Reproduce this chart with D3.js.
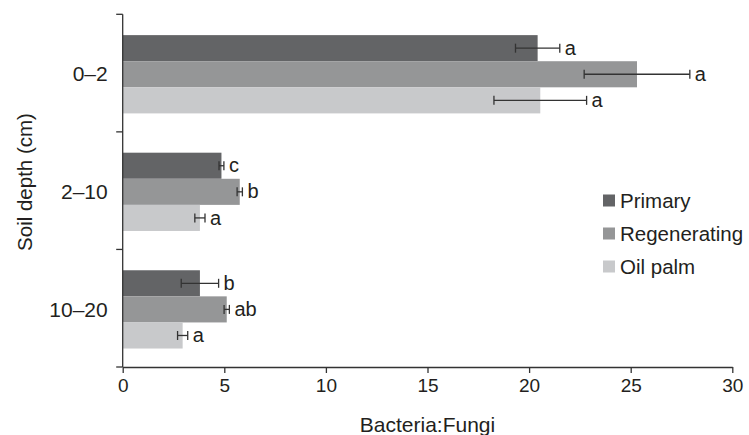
<!DOCTYPE html>
<html>
<head>
<meta charset="utf-8">
<script src="https://cdn.jsdelivr.net/npm/d3@7"></script>
<style>
  html, body { margin: 0; padding: 0; background: #fff; }
  svg { display: block; font-family: "Liberation Sans", Arial, sans-serif; }
</style>
</head>
<body>
<svg id="chart" width="749" height="435"></svg>
<script>
// ---- data ----
const depths = ["0\u20132", "2\u201310", "10\u201320"];
const series = ["Primary", "Regenerating", "Oil palm"];
const primaryVals = [20.42, 4.86, 3.8];
const regenVals = [25.31, 5.76, 5.12];
const oilVals = [20.55, 3.8, 2.95];
const primaryErr = [1.09, 0.12, 0.92];
const regenErr = [2.6, 0.13, 0.13];
const oilErr = [2.28, 0.25, 0.25];
const primaryLetters = ["a", "c", "b"];
const regenLetters = ["a", "b", "ab"];
const oilLetters = ["a", "a", "a"];
const xTicks = [0, 5, 10, 15, 20, 25, 30];
const colors = ["#636466", "#959697", "#c8c9cb"];

const valueSets = [primaryVals, regenVals, oilVals];
const errSets = [primaryErr, regenErr, oilErr];
const letterSets = [primaryLetters, regenLetters, oilLetters];

const rows = [];
depths.forEach((d, i) => {
  series.forEach((s, j) => {
    rows.push({depth: d, series: s, si: j, value: valueSets[j][i], err: errSets[j][i], letter: letterSets[j][i]});
  });
});

const svg = d3.select("#chart");
const ink = "#231f20";
const axisInk = "#333";

const x = d3.scaleLinear().domain([0, 30]).range([122.7, 732.3]);
const y = d3.scaleBand().domain(depths).range([14.3, 367]).padding(0);
const yInner = d3.scaleBand().domain(series).range([0, y.bandwidth()]).paddingInner(0).paddingOuter(0.753).align(0.53);

// bars
svg.append("g").selectAll("rect").data(rows).join("rect")
  .attr("x", x(0))
  .attr("y", d => y(d.depth) + yInner(d.series))
  .attr("width", d => x(d.value) - x(0))
  .attr("height", yInner.bandwidth())
  .attr("fill", d => colors[d.si]);

// error bars
const eb = svg.append("g").attr("stroke", axisInk).attr("stroke-width", 1.3);
rows.forEach(d => {
  const cy = y(d.depth) + yInner(d.series) + yInner.bandwidth() / 2;
  const x1 = x(d.value - d.err), x2 = x(d.value + d.err);
  eb.append("line").attr("x1", x1).attr("x2", x2).attr("y1", cy).attr("y2", cy);
  eb.append("line").attr("x1", x1).attr("x2", x1).attr("y1", cy - 4.5).attr("y2", cy + 4.5);
  eb.append("line").attr("x1", x2).attr("x2", x2).attr("y1", cy - 4.5).attr("y2", cy + 4.5);
});

// significance letters
svg.append("g").selectAll("text").data(rows).join("text")
  .attr("x", d => x(d.value + d.err) + 5)
  .attr("y", d => y(d.depth) + yInner(d.series) + yInner.bandwidth() / 2)
  .attr("dy", "0.33em")
  .attr("font-size", 20)
  .attr("fill", ink)
  .text(d => d.letter);

// x axis
const xAxis = svg.append("g")
  .attr("transform", `translate(0,${y.range()[1]})`)
  .call(d3.axisBottom(x).tickValues(xTicks).tickSize(6).tickSizeOuter(0).tickPadding(6));
xAxis.select(".domain").attr("stroke", axisInk).attr("stroke-width", 1.3);
xAxis.selectAll(".tick line").attr("stroke", axisInk).attr("stroke-width", 1.3);
xAxis.selectAll(".tick text").attr("font-size", 19).attr("fill", ink).attr("font-family", null);

// y axis (band boundaries as ticks)
const yg = svg.append("g");
const bounds = depths.map(d => y(d)).concat([y.range()[1]]);
yg.append("line").attr("x1", x(0)).attr("x2", x(0)).attr("y1", y.range()[0]).attr("y2", y.range()[1])
  .attr("stroke", axisInk).attr("stroke-width", 1.3);
yg.selectAll("line.tk").data(bounds).join("line").attr("class", "tk")
  .attr("x1", x(0) - 6.5).attr("x2", x(0)).attr("y1", d => d).attr("y2", d => d)
  .attr("stroke", axisInk).attr("stroke-width", 1.3);
yg.selectAll("text").data(depths).join("text")
  .attr("x", x(0) - 15)
  .attr("y", d => y(d) + y.bandwidth() / 2 + 1)
  .attr("dy", "0.35em")
  .attr("text-anchor", "end")
  .attr("font-size", 21)
  .attr("fill", ink)
  .text(d => d);

// axis titles
svg.append("text")
  .attr("x", 427.5).attr("y", 432)
  .attr("text-anchor", "middle")
  .attr("font-size", 21)
  .attr("fill", ink)
  .text("Bacteria:Fungi");
svg.append("text")
  .attr("transform", "translate(32,182) rotate(-90)")
  .attr("text-anchor", "middle")
  .attr("font-size", 20.5)
  .attr("fill", ink)
  .text("Soil depth (cm)");

// legend
const lg = svg.append("g").attr("transform", "translate(603,0)");
const legendY = d3.scalePoint().domain(series).range([200.5, 266.5]);
series.forEach((s, j) => {
  lg.append("rect").attr("x", 0).attr("y", legendY(s) - 6).attr("width", 12).attr("height", 12).attr("fill", colors[j]);
  lg.append("text").attr("x", 17).attr("y", legendY(s)).attr("dy", "0.35em")
    .attr("font-size", 20.5).attr("fill", ink).text(s);
});
</script>
</body>
</html>
